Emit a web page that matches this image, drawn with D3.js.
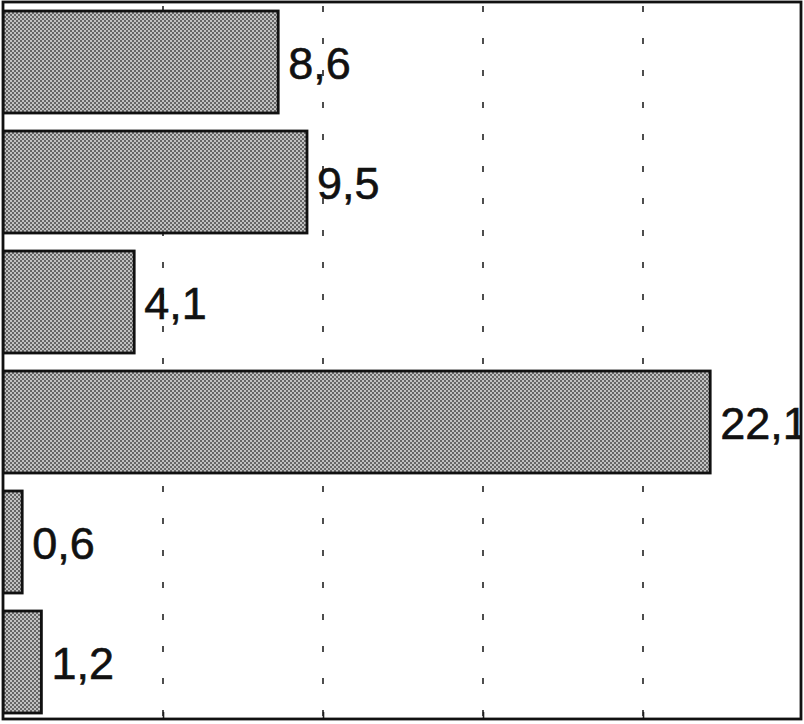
<!DOCTYPE html>
<html>
<head>
<meta charset="utf-8">
<script src="https://cdn.jsdelivr.net/npm/d3@7"></script>
<style>
  html, body { margin: 0; padding: 0; background: #fff; }
  svg { display: block; }
</style>
</head>
<body>
<div class="main"></div>
<script>
(function() {
  'use strict';

  // bar values, top to bottom (decimal comma as in the original)
  var categories = ["a", "b", "c", "d", "e", "f"];
  var values = [8.6, 9.5, 4.1, 22.1, 0.6, 1.2];
  var gridTicks = [5, 10, 15, 20];

  var W = 804, H = 724;
  var frame = { left: 3, top: 2, right: 801, bottom: 719 };

  var x = d3.scaleLinear()
    .domain([0, 25])
    .range([3, 803]);

  var y = d3.scaleBand()
    .domain(categories)
    .range([2, 722])
    .paddingInner(0.15)
    .paddingOuter(0.075);

  var fmt = function(v) { return d3.format(".1f")(v).replace(".", ","); };

  var svg = d3.select(".main")
    .append("svg")
      .attr("width", W)
      .attr("height", H);

  var defs = svg.append("defs");

  // halftone-ish fill like the scanned bars
  var pat = defs.append("pattern")
      .attr("id", "dots")
      .attr("width", 4)
      .attr("height", 4)
      .attr("patternUnits", "userSpaceOnUse");
  pat.append("rect")
      .attr("width", 4).attr("height", 4)
      .style("fill", "#c2c2c2");
  pat.append("rect")
      .attr("width", 2).attr("height", 2)
      .style("fill", "#666");
  pat.append("rect")
      .attr("x", 2).attr("y", 2)
      .attr("width", 2).attr("height", 2)
      .style("fill", "#666");

  defs.append("clipPath")
      .attr("id", "inside")
    .append("rect")
      .attr("x", frame.left)
      .attr("y", frame.top)
      .attr("width", frame.right - frame.left)
      .attr("height", frame.bottom - frame.top);

  var g = svg.append("g").attr("clip-path", "url(#inside)");

  // dashed grid
  g.selectAll(".grid")
    .data(gridTicks)
    .enter().append("line")
      .attr("class", "grid")
      .attr("x1", function(d) { return x(d); })
      .attr("x2", function(d) { return x(d); })
      .attr("y1", 6)
      .attr("y2", frame.bottom)
      .style("stroke", "#222")
      .style("stroke-width", 1.6)
      .style("stroke-dasharray", "6,26");

  // bottom ticks (labels are cut off in the original)
  svg.append("g")
      .attr("transform", "translate(0," + frame.bottom + ")")
      .call(d3.axisBottom(x).tickValues(gridTicks).tickSize(-7).tickFormat(""))
      .call(function(a) {
        a.select(".domain").remove();
        a.selectAll("line").style("stroke", "#222").style("stroke-width", 1.6);
      });

  g.selectAll(".bar")
    .data(values)
    .enter().append("rect")
      .attr("class", "bar")
      .attr("x", x(0))
      .attr("y", function(d, i) { return y(categories[i]); })
      .attr("width", function(d) { return x(d) - x(0); })
      .attr("height", y.bandwidth())
      .style("fill", "url(#dots)")
      .style("stroke", "#111")
      .style("stroke-width", 2.8);

  g.selectAll(".label")
    .data(values)
    .enter().append("text")
      .attr("class", "label")
      .attr("x", function(d) { return x(d) + 10; })
      .attr("y", function(d, i) { return y(categories[i]) + y.bandwidth() / 2 + 17; })
      .text(fmt)
      .style("font-family", "'Liberation Sans', Arial, Helvetica, sans-serif")
      .style("font-size", "45px")
      .style("fill", "#111")
      .style("stroke", "#111")
      .style("stroke-width", 0.6);

  // frame
  svg.append("rect")
      .attr("x", frame.left)
      .attr("y", frame.top)
      .attr("width", frame.right - frame.left)
      .attr("height", frame.bottom - frame.top)
      .style("fill", "none")
      .style("stroke", "#111")
      .style("stroke-width", 2.8);

})();
</script>
</body>
</html>
